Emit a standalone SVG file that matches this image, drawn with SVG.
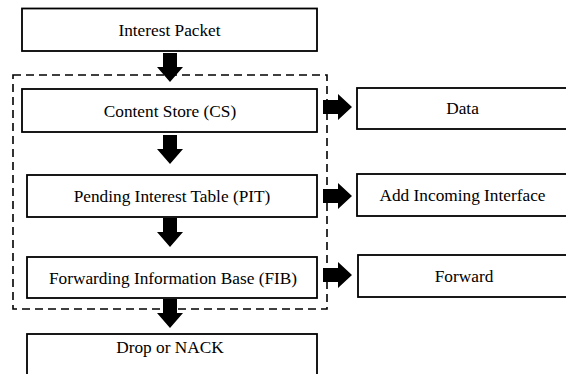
<svg xmlns="http://www.w3.org/2000/svg" width="566" height="374" viewBox="0 0 566 374">
<style>
.box{fill:#fff;stroke:#000;stroke-width:1.8}
text{font-family:'Liberation Serif','Times New Roman',Times,serif;font-size:17.3px;fill:#000;text-anchor:middle}
.arr{fill:#000;stroke:none}
.group{fill:none;stroke:#000;stroke-width:1.6;stroke-dasharray:8 5}
</style>
<rect width="566" height="374" fill="#fff"/>
<g id="connectors">
<rect class="group" x="13" y="75" width="314" height="234"/>
<path class="arr" d="M163 53H177V67H183L170 82L157 67H163Z"/>
<path class="arr" d="M163 135H177V149H183L170 164L157 149H163Z"/>
<path class="arr" d="M163 218H177V232H183L170 247L157 232H163Z"/>
<path class="arr" d="M163 299H177V313H183L170 328L157 313H163Z"/>
<path class="arr" d="M323 100H338V94L352 107L338 120V114H323Z"/>
<path class="arr" d="M323 189H338V183L352 196L338 209V203H323Z"/>
<path class="arr" d="M323 268H338V262L352 275L338 288V282H323Z"/>
</g>
<g font-family="Liberation Serif, serif">
<g id="interest"><rect class="box" x="22" y="8.5" width="295" height="42.5"/><text x="169.5" y="36">Interest Packet</text></g>
<g id="cs"><rect class="box" x="22" y="89" width="295" height="43"/><text x="170" y="116.5">Content Store (CS)</text></g>
<g id="pit"><rect class="box" x="27" y="175" width="290" height="42"/><text x="172" y="202">Pending Interest Table (PIT)</text></g>
<g id="fib"><rect class="box" x="27" y="257" width="290" height="41"/><text x="173" y="284">Forwarding Information Base (FIB)</text></g>
<g id="drop"><rect class="box" x="27" y="334" width="290" height="44"/><text x="170" y="353">Drop or NACK</text></g>
<g id="data"><rect class="box" x="357" y="88" width="212" height="41"/><text x="462.5" y="114">Data</text></g>
<g id="addif"><rect class="box" x="357" y="174" width="212" height="42"/><text x="462.5" y="200.5">Add Incoming Interface</text></g>
<g id="forward"><rect class="box" x="358" y="255" width="211" height="42"/><text x="464" y="281.5">Forward</text></g>
</g>
</svg>
